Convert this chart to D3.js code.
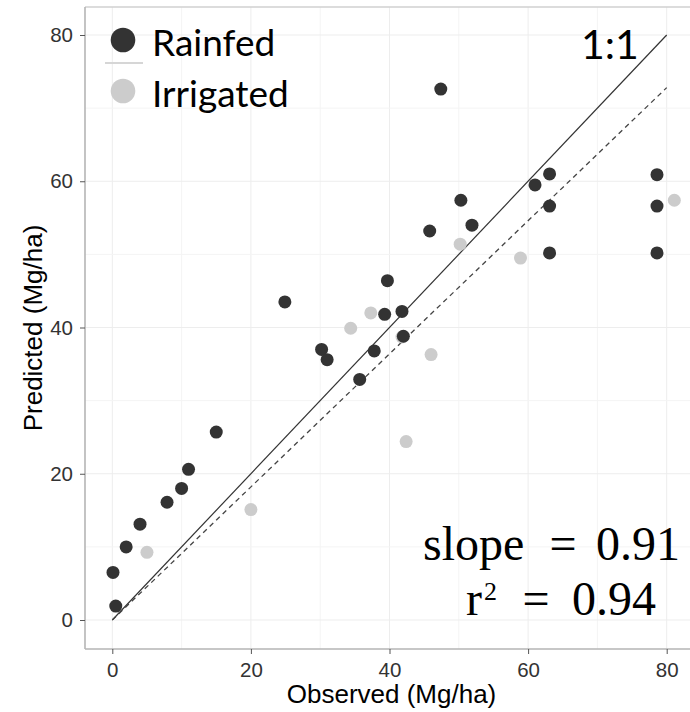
<!DOCTYPE html>
<html>
<head>
<meta charset="utf-8">
<script src="https://cdn.jsdelivr.net/npm/d3@7"></script>
<style>
  html, body { margin: 0; padding: 0; background: #fff; }
  svg { display: block; }
</style>
</head>
<body>
<svg id="chart" width="690" height="712"></svg>
<script>
// ---- Data ----
const rainfedObserved  = [0.1, 0.5, 2.0, 4.0, 7.9, 10.0, 11.0, 15.0, 24.9, 30.2, 31.0, 35.7, 37.8, 39.3, 39.7, 41.8, 42.0, 45.8, 47.4, 50.3, 51.9, 61.0, 63.1, 63.1, 63.1, 78.6, 78.6, 78.6];
const rainfedPredicted = [6.5, 1.9, 10.0, 13.1, 16.1, 18.0, 20.6, 25.7, 43.5, 37.0, 35.6, 32.9, 36.8, 41.8, 46.4, 42.2, 38.8, 53.2, 72.6, 57.4, 54.0, 59.5, 61.0, 56.6, 50.2, 60.9, 56.6, 50.2];
const irrigatedObserved  = [5.0, 20.0, 34.4, 37.3, 41.8, 42.4, 46.0, 50.2, 58.9, 81.1];
const irrigatedPredicted = [9.25, 15.1, 39.9, 42.0, 38.7, 24.4, 36.3, 51.4, 49.5, 57.4];
const seriesNames = ["Rainfed", "Irrigated"];
const tickValues = [0, 20, 40, 60, 80];
const gridValues = [0, 10, 20, 30, 40, 50, 60, 70, 80, 90];
const oneToOne = [[0, 0], [80, 80]];
const fitSlope = 0.91;
const rSquared = 0.94;
const xTitle = "Observed (Mg/ha)";
const yTitle = "Predicted (Mg/ha)";

// ---- Layout ----
const svg = d3.select("#chart");
const W = 690, H = 712;
const panel = { left: 85, top: 7, right: 706, bottom: 649 };
const x = d3.scaleLinear().domain([0, 80]).range([112.3, 666.7]);
const y = d3.scaleLinear().domain([0, 80]).range([620, 35]);
const colors = { Rainfed: "#333333", Irrigated: "#cccccc" };

svg.append("rect").attr("width", W).attr("height", H).attr("fill", "#fff");

svg.append("clipPath").attr("id", "clip")
  .append("rect").attr("x", panel.left).attr("y", panel.top)
  .attr("width", panel.right - panel.left).attr("height", panel.bottom - panel.top);

const g = svg.append("g").attr("clip-path", "url(#clip)");

// grid
g.selectAll("line.vg").data(gridValues).join("line")
  .attr("x1", d => x(d)).attr("x2", d => x(d))
  .attr("y1", panel.top).attr("y2", panel.bottom)
  .attr("stroke", d => d % 20 === 0 ? "#ededed" : "#f4f4f4").attr("stroke-width", 1);
g.selectAll("line.hg").data(gridValues).join("line")
  .attr("y1", d => y(d)).attr("y2", d => y(d))
  .attr("x1", panel.left).attr("x2", panel.right)
  .attr("stroke", d => d % 20 === 0 ? "#ededed" : "#f4f4f4").attr("stroke-width", 1);

// 1:1 line
const line = d3.line().x(d => x(d[0])).y(d => y(d[1]));
g.append("path").datum(oneToOne).attr("d", line)
  .attr("fill", "none").attr("stroke", "#333").attr("stroke-width", 1.2);
// fit line
g.append("path").datum(oneToOne.map(d => [d[0], d[0] * fitSlope])).attr("d", line)
  .attr("fill", "none").attr("stroke", "#444").attr("stroke-width", 1.3)
  .attr("stroke-dasharray", "5,4");

// points
const irr = irrigatedObserved.map((v, i) => [v, irrigatedPredicted[i]]);
const rain = rainfedObserved.map((v, i) => [v, rainfedPredicted[i]]);
g.selectAll("circle.irr").data(irr).join("circle")
  .attr("cx", d => x(d[0])).attr("cy", d => y(d[1])).attr("r", 6.5)
  .attr("fill", colors.Irrigated);
g.selectAll("circle.rain").data(rain).join("circle")
  .attr("cx", d => x(d[0])).attr("cy", d => y(d[1])).attr("r", 6.5)
  .attr("fill", colors.Rainfed);

// panel top border
svg.append("line").attr("x1", panel.left).attr("x2", W).attr("y1", panel.top).attr("y2", panel.top)
  .attr("stroke", "#d0d0d0").attr("stroke-width", 1.5);

// axes
const xAxis = d3.axisBottom(x).tickValues(tickValues).tickSize(5).tickPadding(8);
const yAxis = d3.axisLeft(y).tickValues(tickValues).tickSize(5).tickPadding(7);
const ax = svg.append("g").attr("transform", `translate(0,${panel.bottom})`).call(xAxis);
const ay = svg.append("g").attr("transform", `translate(${panel.left},0)`).call(yAxis);
ax.select(".domain").attr("d", `M${panel.left},0H${W}`);
ay.select(".domain").attr("d", `M0,${panel.top}V${panel.bottom}`);
[ax, ay].forEach(a => {
  a.select(".domain").attr("stroke", "#b5b5b5").attr("stroke-width", 1.6);
  a.selectAll(".tick line").attr("stroke", "#555").attr("stroke-width", 1);
  a.selectAll(".tick text").attr("fill", "#333")
    .attr("font-family", "'Liberation Sans', Arial, sans-serif").attr("font-size", 20.5);
});

// axis titles
svg.append("text").attr("x", (panel.left + panel.right) / 2 - 4).attr("y", 703)
  .attr("text-anchor", "middle").attr("font-family", "'Liberation Sans', Arial, sans-serif")
  .attr("font-size", 26).attr("fill", "#000").text(xTitle);
svg.append("text").attr("transform", `translate(42,${(panel.top + panel.bottom) / 2}) rotate(-90)`)
  .attr("text-anchor", "middle").attr("font-family", "'Liberation Sans', Arial, sans-serif")
  .attr("font-size", 26).attr("fill", "#000").text(yTitle);

// legend
const legend = svg.append("g");
legend.append("line").attr("x1", 105).attr("x2", 143).attr("y1", 63).attr("y2", 63)
  .attr("stroke", "#d6d6d6").attr("stroke-width", 2);
const legY = [40, 91];
seriesNames.forEach((name, i) => {
  legend.append("circle").attr("cx", 123).attr("cy", legY[i]).attr("r", 12.3).attr("fill", colors[name]);
  legend.append("text").attr("x", 152).attr("y", legY[i] + 15.5)
    .attr("font-family", "Lato, 'Open Sans', sans-serif").attr("font-size", 37)
    .attr("fill", "#000").text(name);
});

// 1:1 label
svg.append("text").attr("x", 581).attr("y", 59)
  .attr("font-family", "Lato, 'Open Sans', sans-serif").attr("font-size", 41)
  .attr("fill", "#000").text("1:1");

// stats
const serif = "'Liberation Serif', 'Times New Roman', serif";
const st = svg.append("g").attr("font-family", serif).attr("fill", "#000").attr("font-size", 48);
st.append("text").attr("x", 423).attr("y", 560).text("slope");
st.append("text").attr("x", 563).attr("y", 560).attr("text-anchor", "middle").text("=");
st.append("text").attr("x", 680).attr("y", 560).attr("text-anchor", "end").text(fitSlope.toFixed(2));
st.append("text").attr("x", 466).attr("y", 615).text("r");
st.append("text").attr("x", 484).attr("y", 600).attr("font-size", 26).text("2");
st.append("text").attr("x", 536).attr("y", 615).attr("text-anchor", "middle").text("=");
st.append("text").attr("x", 656).attr("y", 615).attr("text-anchor", "end").text(rSquared.toFixed(2));
</script>
</body>
</html>
